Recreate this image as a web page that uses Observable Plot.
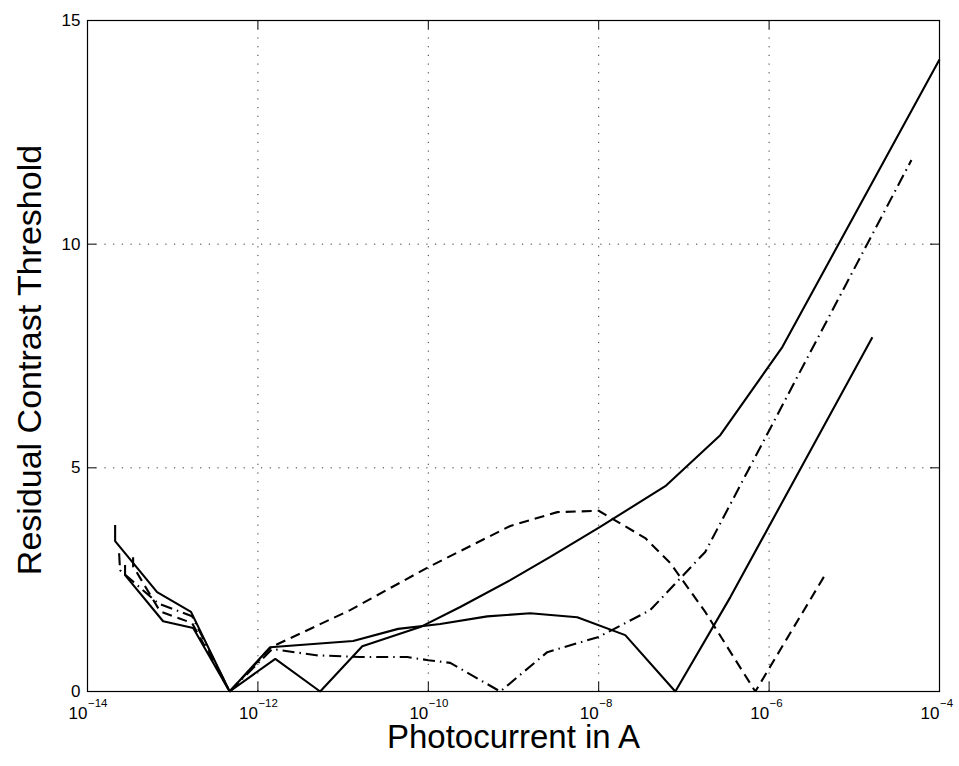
<!DOCTYPE html>
<html>
<head>
<meta charset="utf-8">
<script src="https://cdn.jsdelivr.net/npm/d3@7"></script>
<script src="https://cdn.jsdelivr.net/npm/@observablehq/plot@0.6"></script>
<style>
  html, body { margin: 0; padding: 0; background: #fff; }
  #chart svg { display: block; }
</style>
</head>
<body>
<div id="chart"></div>
<script>
// Residual contrast threshold versus photocurrent, four model curves.

// Axis ticks
const xTickValues = [1e-14, 1e-12, 1e-10, 1e-8, 1e-6, 1e-4];
const xGridValues = [1e-12, 1e-10, 1e-8, 1e-6];
const yTickValues = [0, 5, 10, 15];
const yGridValues = [5, 10];

// Solid curve reaching the top right corner
const currentA   = [2.11e-14, 2.11e-14, 6.56e-14, 1.64e-13, 4.66e-13, 1.60e-12, 5.38e-12, 1.68e-11, 8.04e-11, 2.37e-10, 9.16e-10, 2.70e-9, 1.04e-8, 6.05e-8, 2.67e-7, 1.43e-6, 1e-4];
const thresholdA = [3.72, 3.36, 2.22, 1.78, 0, 0.73, 0, 1.01, 1.44, 1.89, 2.49, 3.01, 3.68, 4.59, 5.73, 7.70, 14.13];

// Solid curve with the second dip near 1e-7 A
const currentB   = [2.76e-14, 2.76e-14, 7.72e-14, 1.74e-13, 4.66e-13, 1.39e-12, 1.31e-11, 4.43e-11, 1.38e-10, 4.92e-10, 1.57e-9, 5.60e-9, 2.05e-8, 7.93e-8, 3.51e-7, 1.63e-5];
const thresholdB = [2.83, 2.60, 1.57, 1.42, 0, 0.99, 1.13, 1.40, 1.51, 1.68, 1.75, 1.66, 1.26, 0, 2.11, 7.92];

// Dashed curve
const currentC   = [3.43e-14, 3.43e-14, 7.12e-14, 1.69e-13, 4.66e-13, 1.43e-12, 1.21e-11, 1e-10, 9.16e-10, 3.27e-9, 1.0e-8, 3.52e-8, 6.92e-8, 1.78e-7, 6.89e-7, 4.45e-6];
const thresholdC = [3.00, 2.80, 1.79, 1.53, 0, 0.99, 1.82, 2.78, 3.70, 4.01, 4.04, 3.43, 2.87, 1.78, 0, 2.58];

// Dash-dot curve
const currentD   = [2.35e-14, 2.41e-14, 6.75e-14, 1.69e-13, 4.66e-13, 1.47e-12, 4.83e-12, 1.59e-11, 5.66e-11, 1e-10, 1.81e-10, 6.99e-10, 2.49e-9, 1e-8, 4.03e-8, 1.78e-7, 4.68e-5];
const thresholdD = [3.09, 2.71, 1.97, 1.68, 0, 0.95, 0.81, 0.77, 0.77, 0.70, 0.64, 0, 0.88, 1.22, 1.82, 3.12, 11.88];

const series = [
  {current: currentA, threshold: thresholdA, dash: null},
  {current: currentB, threshold: thresholdB, dash: null},
  {current: currentC, threshold: thresholdC, dash: "10,6"},
  {current: currentD, threshold: thresholdD, dash: "12,5,1.5,5"}
];

const width = 959, height = 766;
const marginLeft = 87, marginRight = 20, marginTop = 20, marginBottom = 75;
const innerW = width - marginLeft - marginRight;
const innerH = height - marginTop - marginBottom;
const tickLen = 9;
const font = "'Liberation Sans', Arial, Helvetica, sans-serif";

const lineMarks = series.map(s =>
  Plot.line(s.current.map((c, i) => ({c, t: s.threshold[i]})), {
    x: "c", y: "t",
    stroke: "black", strokeWidth: 2.1,
    strokeDasharray: s.dash,
    strokeLinejoin: "miter", strokeLinecap: "butt"
  })
);

const exponentLabel = d => {
  const e = Math.round(Math.log10(d));
  return (e < 0 ? "\u2212" : "") + Math.abs(e);
};

const chart = Plot.plot({
  width, height,
  marginLeft, marginRight, marginTop, marginBottom,
  style: {fontFamily: font, background: "#fff", color: "#000", overflow: "visible"},
  x: {type: "log", domain: [1e-14, 1e-4], axis: null},
  y: {domain: [0, 15], axis: null},
  marks: [
    // dotted grid
    Plot.ruleX(xGridValues, {x: d => d, stroke: "#000", strokeOpacity: 0.8, strokeWidth: 1, strokeDasharray: "1.2,7.5"}),
    Plot.ruleY(yGridValues, {y: d => d, stroke: "#000", strokeOpacity: 0.8, strokeWidth: 1, strokeDasharray: "1.2,7.5"}),
    // inward ticks on all four sides
    Plot.ruleX(xTickValues, {x: d => d, insetTop: innerH - tickLen, stroke: "#000"}),
    Plot.ruleX(xTickValues, {x: d => d, insetBottom: innerH - tickLen, stroke: "#000"}),
    Plot.ruleY(yTickValues, {y: d => d, insetRight: innerW - tickLen, stroke: "#000"}),
    Plot.ruleY(yTickValues, {y: d => d, insetLeft: innerW - tickLen, stroke: "#000"}),
    // curves
    ...lineMarks,
    Plot.frame({stroke: "#000", strokeWidth: 1.2}),
    // y tick labels
    Plot.text(yTickValues, {y: d => d, frameAnchor: "left", text: d => String(d), textAnchor: "end", lineAnchor: "middle", dx: -7, fontSize: 17, fill: "#000"}),
    // x tick labels as 10 with a raised exponent
    Plot.text(xTickValues, {x: d => d, frameAnchor: "bottom", text: () => "10", textAnchor: "end", lineAnchor: "middle", dy: 22, fontSize: 17, fill: "#000"}),
    Plot.text(xTickValues, {x: d => d, frameAnchor: "bottom", text: exponentLabel, textAnchor: "start", lineAnchor: "middle", dy: 12, dx: 0.5, fontSize: 11.5, fill: "#000"}),
    // axis titles
    Plot.text(["Photocurrent in A"], {frameAnchor: "bottom", text: d => d, textAnchor: "middle", lineAnchor: "middle", dy: 46, fontSize: 33, fill: "#000"}),
    Plot.text(["Residual Contrast Threshold"], {frameAnchor: "left", text: d => d, rotate: -90, textAnchor: "middle", lineAnchor: "middle", dx: -57, dy: 4, fontSize: 34, fill: "#000"})
  ]
});

document.getElementById("chart").appendChild(chart);
</script>
</body>
</html>
